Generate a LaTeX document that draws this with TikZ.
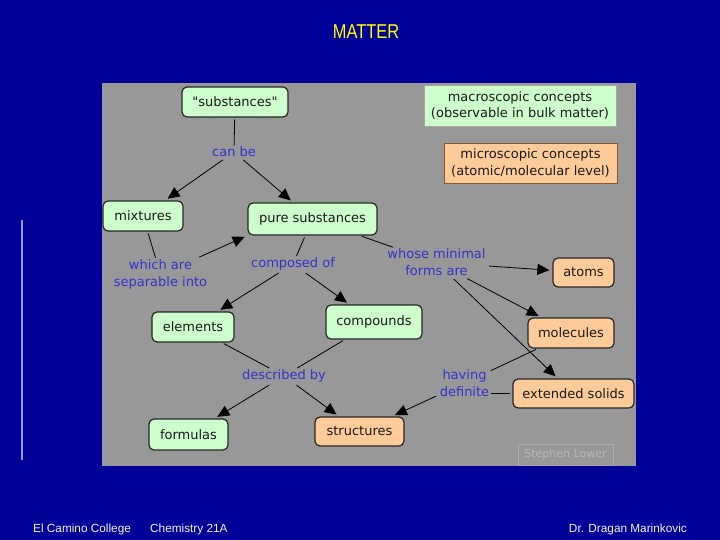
\documentclass[tikz,border=0pt]{standalone}
\usepackage{fontspec}
\usepackage{graphicx}
\setmainfont{DejaVu Sans}[Ligatures=TeXOff]
\newfontfamily\arialf{Liberation Sans}
\usetikzlibrary{arrows.meta}
\definecolor{bgblue}{RGB}{0,0,153}
\definecolor{panelgray}{RGB}{152,152,152}
\definecolor{mgreen}{RGB}{204,255,204}
\definecolor{morange}{RGB}{255,204,153}
\definecolor{lblue}{RGB}{51,51,204}
\definecolor{vline}{RGB}{150,150,210}
\definecolor{sigtext}{RGB}{182,182,182}
\definecolor{sigborder}{RGB}{172,172,172}
\definecolor{titley}{RGB}{255,255,0}
\definecolor{foottext}{RGB}{245,245,235}
\begin{document}
\begin{tikzpicture}[x=1pt,y=-1pt,
  concept/.style={draw=black!85, line width=1.2pt, rounded corners=5pt, text=black!90,
    font=\fontsize{13}{16}\selectfont, inner sep=0pt},
  gconcept/.style={concept, fill=mgreen},
  oconcept/.style={concept, fill=morange},
  legend/.style={line width=0.6pt, align=center, inner sep=0pt, text=black!90,
    font=\fontsize{13}{16.5}\selectfont},
  lbl/.style={text=lblue, font=\fontsize{13}{17}\selectfont, align=center, inner sep=1.5pt},
  conn/.style={draw=black, line width=0.8pt, shorten <=2pt},
  arr/.style={conn, -{Triangle[length=12pt,width=11pt]}, shorten >=3pt},
  foot/.style={text=foottext, font=\arialf\fontsize{11.8}{12}\selectfont, inner sep=0pt}]
\useasboundingbox (0,0) rectangle (720,540);
\fill[bgblue] (0,0) rectangle (720,540);
\fill[panelgray] (102,83) rectangle (636,466);
\draw[vline, line width=1.2pt] (22,220) -- (22,460);

% title and footer
\node[text=titley, inner sep=0pt] (title) at (366,32)
  {\arialf\fontsize{20}{20}\selectfont\scalebox{0.82}[1]{MATTER}};
\node[foot, anchor=west] (f1) at (33,529) {El Camino College};
\node[foot, anchor=west] (f2) at (150,529) {Chemistry 21A};
\node[foot, anchor=east] (f3) at (687,529) {Dr. Dragan Marinkovic};

% legend boxes
\node[legend, fill=mgreen, draw=black!35, minimum width=192pt, minimum height=41pt] (macro) at (520,105.5)
  {macroscopic concepts\\(observable in bulk matter)};
\node[legend, fill=morange, draw=brown!70!black, minimum width=173pt, minimum height=40pt] (micro) at (530.5,163)
  {microscopic concepts\\(atomic/molecular level)};

% concepts
\node[gconcept, minimum width=106pt, minimum height=30pt] (subst) at (235,102) {"substances"};
\node[gconcept, minimum width=80pt, minimum height=30pt] (mixtures) at (143,216) {mixtures};
\node[gconcept, minimum width=129pt, minimum height=32pt] (pure) at (312.5,219) {pure substances};
\node[oconcept, minimum width=61pt, minimum height=29pt] (atoms) at (583.5,272.5) {atoms};
\node[gconcept, minimum width=82pt, minimum height=30pt] (elements) at (193,327) {elements};
\node[gconcept, minimum width=96pt, minimum height=34pt] (compounds) at (374,322) {compounds};
\node[oconcept, minimum width=86pt, minimum height=30pt] (molecules) at (571,333) {molecules};
\node[oconcept, minimum width=121pt, minimum height=29pt] (extsolids) at (573.5,393.5) {extended solids};
\node[gconcept, minimum width=79pt, minimum height=31pt] (formulas) at (188.5,434.5) {formulas};
\node[oconcept, minimum width=89pt, minimum height=29pt] (structures) at (359.5,431.5) {structures};
\node[draw=sigborder, line width=1pt, text=sigtext, font=\fontsize{11}{12}\selectfont,
  minimum width=95pt, minimum height=21pt, inner sep=0pt] (lower) at (565.5,454.5) {Stephen Lower};

% linking phrases
\node[lbl] (canbe) at (234,152) {can be};
\node[lbl] (which) at (160.5,274.5) {which are\\separable into};
\node[lbl] (composed) at (293,264) {composed of};
\node[lbl] (whose) at (436.5,262.5) {whose minimal\\forms are};
\node[lbl] (described) at (284,376) {described by};
\node[lbl] (having) at (464.5,383) {having\\definite};

% connectors
\draw[conn] (subst) -- (canbe);
\draw[arr] (canbe) -- (mixtures);
\draw[arr] (canbe) -- (pure);
\draw[conn] (mixtures) -- (which);
\draw[arr] (which) -- (pure.south west);
\draw[conn] (pure) -- (composed);
\draw[arr] (composed) -- (elements);
\draw[arr] (composed) -- (compounds);
\draw[conn] (pure) -- (whose);
\draw[arr] (whose) -- (atoms);
\draw[arr] (whose) -- (molecules);
\draw[arr] (whose) -- (extsolids);
\draw[conn] (elements) -- (described);
\draw[conn] (compounds) -- (described);
\draw[arr] (described) -- (formulas);
\draw[arr] (described) -- (structures);
\draw[conn] (molecules) -- (having);
\draw[conn] (extsolids.west) -- (extsolids.west -| having.east);
\draw[arr] (having) -- (structures);
\end{tikzpicture}
\end{document}
